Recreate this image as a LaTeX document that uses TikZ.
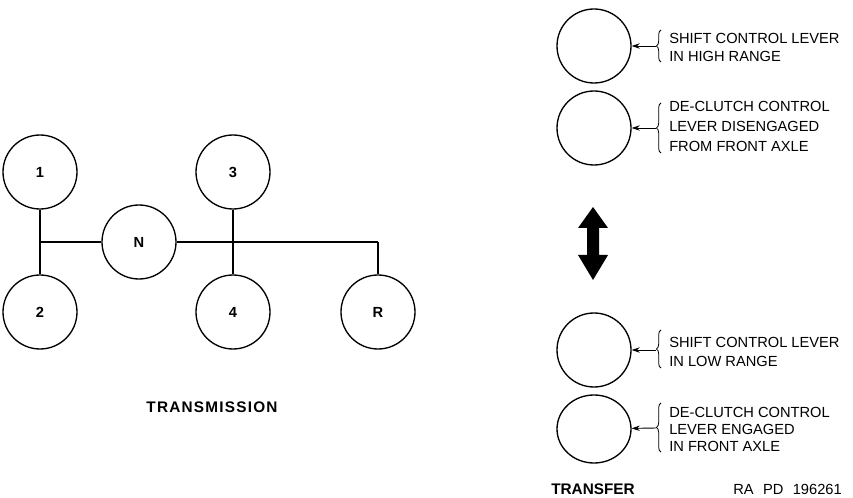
\documentclass[tikz,border=0pt]{standalone}
\usepackage{fontspec}
\setmainfont{Liberation Sans}
\usetikzlibrary{shapes.geometric,arrows.meta,decorations.pathreplacing}
\begin{document}
\begin{tikzpicture}[x=0.75pt,y=-0.75pt,
  gear/.style={circle, draw, line width=1pt, minimum size=55.5pt, inner sep=0pt,
    font=\bfseries\fontsize{11}{13}\selectfont},
  rangecirc/.style={circle, draw, line width=1pt, minimum size=55.5pt, inner sep=0pt},
  note/.style={anchor=base west, inner sep=0pt, font=\fontsize{11}{13}\selectfont},
  title/.style={anchor=base, inner sep=0pt, font=\bfseries\fontsize{11.5}{13}\selectfont},
  rod/.style={line width=1.1pt},
  bar/.style={line width=0.8pt},
  pointer/.style={line width=0.7pt, -{Stealth[length=6pt,width=4pt]}},
  bracket/.style={line width=0.6pt, decorate, decoration={brace, amplitude=3.5pt}}]
\useasboundingbox (0,0) rectangle (853,498);

% --- transmission shift pattern ---
\node[gear] (g1) at (40,172) {1};
\node[gear] (g2) at (40,312) {2};
\node[gear] (gN) at (139,242) {N};
\node[gear] (g3) at (233,172) {3};
\node[gear] (g4) at (233,312) {4};
\node[gear] (gR) at (378,312) {R};
\coordinate (j1) at (40,242);

\draw[rod] (g1) -- (g2);
\draw[rod] (g3) -- (g4);
\draw[bar] (j1) -- (gN);
\draw[bar] (gN) -- (gN -| gR);
\draw[rod] (gN -| gR) -- (gR);

\node[title, font=\bfseries\fontsize{11.5}{13}\selectfont\addfontfeature{LetterSpace=8}] (tx) at (212,413) {TRANSMISSION};

% --- transfer case lever positions ---
\node[rangecirc] (t1) at (594,46) {};
\node[rangecirc] (t2) at (594,128) {};
\node[rangecirc] (t3) at (594,350) {};
\node[ellipse, draw, line width=1pt, minimum width=55.5pt, minimum height=51pt, inner sep=0pt] (t4) at (594,429) {};

% double-headed movement arrow
\fill (593,207) -- (608,228) -- (599,228) -- (599,255) -- (608,255) -- (593,280)
  -- (578,255) -- (587,255) -- (587,228) -- (578,228) -- cycle;

% braces
\draw[bracket] (661,62) -- (661,30);
\draw[bracket] (661,153) -- (661,103);
\draw[bracket] (661,368) -- (661,330);
\draw[bracket] (661,452) -- (661,403);

\coordinate (b1) at (656,46);
\coordinate (b2) at (656,128);
\coordinate (b3) at (656,350);
\coordinate (b4) at (656,428);
\draw[pointer] (b1) -- (t1);
\draw[pointer] (b2) -- (t2);
\draw[pointer] (b3) -- (t3);
\draw[pointer] (b4) -- (t4);

\node[note] (n1a) at (669,44) {SHIFT CONTROL LEVER};
\node[note] (n1b) at (669,62) {IN HIGH RANGE};
\node[note] (n2a) at (669,112) {DE-CLUTCH CONTROL};
\node[note] (n2b) at (669,132) {LEVER DISENGAGED};
\node[note] (n2c) at (669,152) {FROM FRONT AXLE};
\node[note] (n3a) at (669,348) {SHIFT CONTROL LEVER};
\node[note] (n3b) at (669,367) {IN LOW RANGE};
\node[note] (n4a) at (669,418) {DE-CLUTCH CONTROL};
\node[note] (n4b) at (669,435) {LEVER ENGAGED};
\node[note] (n4c) at (669,452) {IN FRONT AXLE};

\node[title] (tf) at (593,494) {TRANSFER};
\node[note] (ref) at (733,494) {RA\hspace{4pt} PD\hspace{4pt} 196261};
\end{tikzpicture}
\end{document}
